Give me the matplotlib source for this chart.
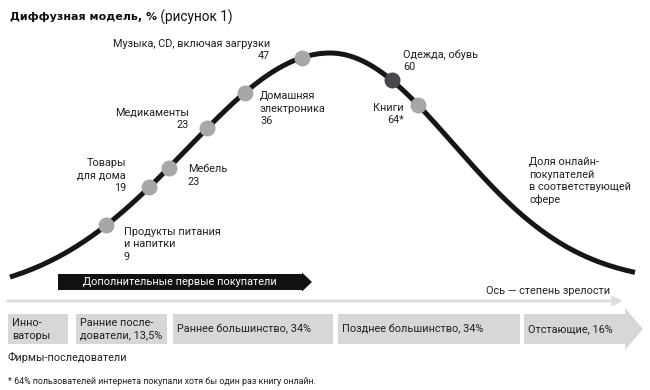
import numpy as np
import matplotlib
matplotlib.use("Agg")
import matplotlib.pyplot as plt
from matplotlib.patches import Rectangle, Polygon

plt.rcParams['font.family'] = ['Roboto', 'DejaVu Sans']

# ---------------- data ----------------
title_bold = "Диффузная модель, %"
title_rest = " (рисунок 1)"

categories = ['Продукты питания\nи напитки', 'Товары\nдля дома', 'Мебель', 'Медикаменты',
              'Домашняя\nэлектроника', 'Музыка, CD, включая загрузки', 'Одежда, обувь', 'Книги']
values = ['9', '19', '23', '23', '36', '47', '60', '64*']
# position of each category along the maturity axis (axis units)
maturity = [106, 149, 169, 207, 245, 302, 392, 418]
highlight = 'Одежда, обувь'

segments = ['Инно-\nваторы', 'Ранние после-\nдователи, 13,5%', 'Раннее большинство, 34%',
            'Позднее большинство, 34%', 'Отстающие, 16%']

curve_note = 'Доля онлайн-\nпокупателей\nв соответствующей\nсфере'
arrow_text = 'Дополнительные первые покупатели'
axis_text = 'Ось — степень зрелости'
followers_text = 'Фирмы-последователи'
footnote = '* 64% пользователей интернета покупали хотя бы один раз книгу онлайн.'

# ---------------- layout / style ----------------
W, H = 650, 390
peak_x, peak_y = 330, 53
left_amp, left_sig = 244, 143
right_amp, right_sig = 230, 123
curve_x0, curve_x1 = 10, 635

# label offsets (dx, dy, ha) relative to each point
label_pos = [(18, 19, 'left'), (-23, -12, 'right'), (19, 8, 'left'), (-18, -10, 'right'),
             (15, 16, 'left'), (-32, -8, 'right'), (11, -20, 'left'), (-14, 9, 'right')]

seg_x = [(8, 68), (76, 167), (173, 333), (338, 520), (524, 625)]
seg_y0, seg_y1 = 314, 344
chev_tip, chev_top, chev_bot = 643, 308, 350

txt_col = '#231f20'
box_col = '#d7d7d7'
fs = 7.8


def bell(x):
    x = np.asarray(x, dtype=float)
    left = peak_y + left_amp * (1 - np.exp(-(x - peak_x) ** 2 / (2 * left_sig ** 2)))
    right = peak_y + right_amp * (1 - np.exp(-(x - peak_x) ** 2 / (2 * right_sig ** 2)))
    return np.where(x < peak_x, left, right)


fig = plt.figure(figsize=(W / 100, H / 100), dpi=100)
ax = fig.add_axes([0, 0, 1, 1])
ax.set_xlim(0, W)
ax.set_ylim(H, 0)
ax.axis('off')

# title
t = ax.text(10, 17, title_bold, fontsize=8.0, fontweight='bold', color='#111111',
            va='center', ha='left', family=['DejaVu Sans'])
fig.canvas.draw()
bb = t.get_window_extent()
x_end = ax.transData.inverted().transform((bb.x1, bb.y0))[0]
ax.text(x_end, 17, title_rest, fontsize=9.8, color='#111111', va='center', ha='left')

# curve
xs = np.linspace(curve_x0, curve_x1, 400)
ax.plot(xs, bell(xs), color='#161616', lw=3.6, solid_capstyle='butt', zorder=2)

# points + labels
for cat, val, mx, (dx, dy, ha) in zip(categories, values, maturity, label_pos):
    my = float(bell(mx))
    col = '#4a474c' if cat == highlight else '#a7a7a7'
    ax.plot([mx], [my], 'o', ms=11.5, color=col, mec='none', zorder=3)
    ax.text(mx + dx, my + dy, cat + '\n' + val, fontsize=fs, color=txt_col, ha=ha,
            va='center', multialignment=ha, linespacing=1.28)

ax.text(529, 181, curve_note, fontsize=fs, color=txt_col, ha='left', va='center',
        linespacing=1.28)

# black arrow
ax.add_patch(Polygon([(58, 274), (302, 274), (302, 272.5), (312, 282), (302, 291.5),
                      (302, 290), (58, 290)], closed=True, color='#111111', lw=0))
ax.text(180, 282, arrow_text, fontsize=fs, color='white', ha='center', va='center')

# maturity axis
ax.annotate('', xy=(623, 301), xytext=(8, 301),
            arrowprops=dict(arrowstyle='-|>,head_length=0.5,head_width=0.25',
                            color='#dedede', lw=2.2, shrinkA=0, shrinkB=0))
ax.text(610, 291, axis_text, fontsize=fs, color=txt_col, ha='right', va='center')

# segments
for i, (lab, (x0, x1)) in enumerate(zip(segments, seg_x)):
    if i == len(segments) - 1:
        ax.add_patch(Polygon([(x0, seg_y0), (x1, seg_y0), (x1, chev_top), (chev_tip, (seg_y0 + seg_y1) / 2),
                              (x1, chev_bot), (x1, seg_y1), (x0, seg_y1)], closed=True,
                             color=box_col, lw=0))
    else:
        ax.add_patch(Rectangle((x0, seg_y0), x1 - x0, seg_y1 - seg_y0, color=box_col, lw=0))
    ax.text(x0 + 4, (seg_y0 + seg_y1) / 2 + 0.5, lab, fontsize=fs, color=txt_col, ha='left',
            va='center', linespacing=1.28)

ax.text(8, 357, followers_text, fontsize=fs, color=txt_col, ha='left', va='center')
ax.text(8, 381, footnote, fontsize=6.4, color=txt_col, ha='left', va='center')

fig.savefig('out.png', dpi=100)
